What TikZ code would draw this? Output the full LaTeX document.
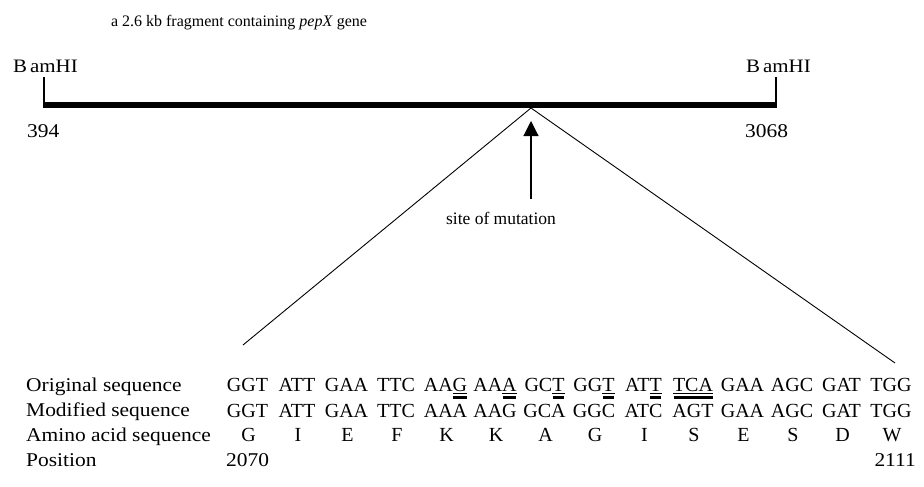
\documentclass[tikz,border=0pt]{standalone}
\usepackage{fontspec}
\setmainfont{Liberation Serif}[FakeStretch=1.1]
\newfontfamily\seqfont{Liberation Serif}
\usetikzlibrary{arrows.meta}

% mutated base: thin underline plus a heavy bar below it
\newcommand\mk[1]{\setbox0\hbox{#1}%
  \rlap{\rule[-2.3pt]{\wd0}{0.8pt}}%
  \rlap{\kern0.5pt\rule[-8.3pt]{\dimexpr\wd0-1pt\relax}{3.6pt}}%
  \box0}

\begin{document}
\begin{tikzpicture}[x=1pt,y=-1pt,
  lbl/.style={inner sep=0pt, anchor=base west, font=\fontsize{19.5}{22}\selectfont},
  small/.style={inner sep=0pt, anchor=base, font=\seqfont\fontsize{17.5}{20}\selectfont},
  codon/.style={inner sep=0pt, anchor=base, font=\seqfont\fontsize{20}{23}\selectfont},
  fragment/.style={line width=6pt},
  tick/.style={line width=1.2pt},
  fan/.style={line width=0.9pt},
  pointer/.style={line width=1.1pt, -{Triangle[width=15pt,length=15pt]}}]
\useasboundingbox (0,0) rectangle (924,487);

% title
\node[small, font=\seqfont\fontsize{16}{19}\selectfont] (title) at (239,27)
  {a 2.6 kb fragment containing \textit{pepX} gene};

% fragment with BamHI sites
\coordinate (barL) at (44,105);
\coordinate (barR) at (776,105);
\coordinate (tickL) at (44,77);
\coordinate (tickR) at (776,77);
\node[lbl, font=\fontsize{19}{22}\selectfont] (bamL) at (13,73) {B\kern3pt amHI};
\node[lbl, font=\fontsize{19}{22}\selectfont] (bamR) at (746,73) {B\kern3pt amHI};
\node[lbl] (posL) at (27,137) {394};
\node[lbl] (posR) at (745,137) {3068};
\draw[tick] (tickL) -- ([yshift=-3pt]barL);
\draw[tick] (tickR) -- ([yshift=-3pt]barR);
\draw[fragment] (barL) -- (barR);

% expansion of the mutated region
\coordinate (apex) at (531,108);
\coordinate (fanL) at (243,345);
\coordinate (fanR) at (895,363);
\draw[fan] (fanL) -- (apex) -- (fanR);

% mutation site pointer
\coordinate (arrowTail) at (531,199);
\coordinate (arrowTip) at (531,121);
\draw[pointer] (arrowTail) -- (arrowTip);
\node[small] (site) at (501,224) {site of mutation};

% row labels
\node[lbl] (rowOrig) at (26,391) {Original sequence};
\node[lbl] (rowMod)  at (26,416) {Modified sequence};
\node[lbl] (rowAA)   at (26,441) {Amino acid sequence};
\node[lbl] (rowPos)  at (26,466) {Position};

% original codons
\foreach \c [count=\i] in {GGT,ATT,GAA,TTC,{AA\mk{G}},{AA\mk{A}},{GC\mk{T}},{GG\mk{T}},{AT\mk{T}},{\mk{TCA}},GAA,AGC,GAT,TGG}
  \node[codon] (orig\i) at ({247.5+49.5*(\i-1)},391) {\c};

% modified codons
\foreach \c [count=\i] in {GGT,ATT,GAA,TTC,AAA,AAG,GCA,GGC,ATC,AGT,GAA,AGC,GAT,TGG}
  \node[codon] (mod\i) at ({247.5+49.5*(\i-1)},417) {\c};

% amino acids
\foreach \a [count=\i] in {G,I,E,F,K,K,A,G,I,S,E,S,D,W}
  \node[codon] (aa\i) at ({248.5+49.5*(\i-1)},441) {\a};

% positions
\node[lbl] (first) at (226,466) {2070};
\node[lbl, anchor=base east] (last) at (916,466) {2111};
\end{tikzpicture}
\end{document}
